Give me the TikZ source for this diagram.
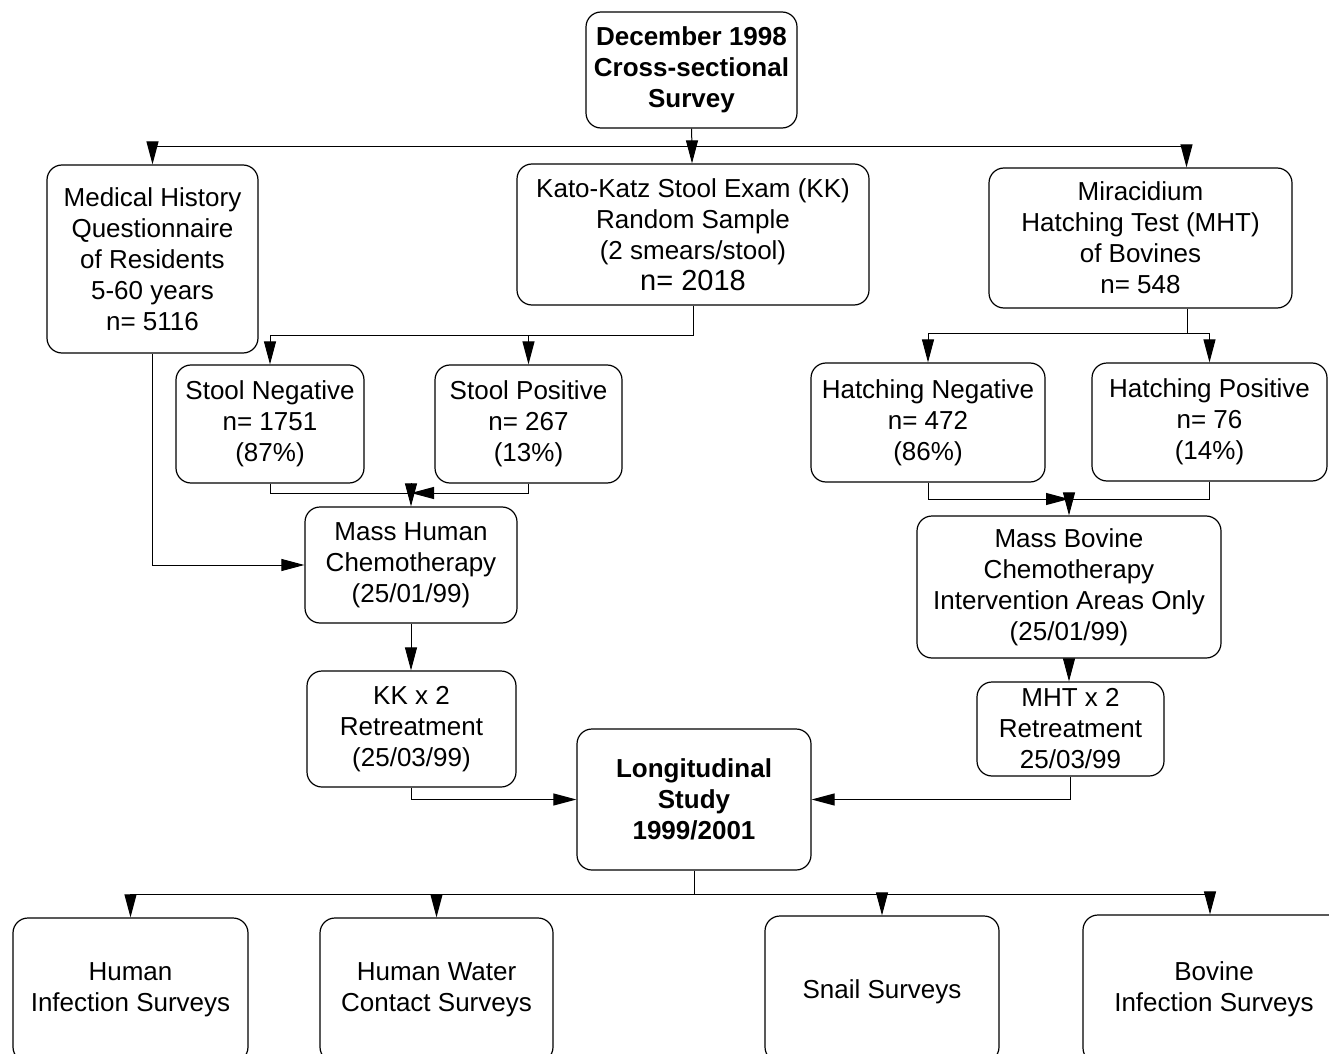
\documentclass[tikz,border=0pt]{standalone}
\usepackage{fontspec}
\setmainfont{Liberation Sans}
\usetikzlibrary{arrows.meta}
\begin{document}
\begin{tikzpicture}[x=0.5pt,y=-0.5pt,
  box/.style={draw, rounded corners=7.5pt, line width=0.6pt, align=center, inner sep=0pt, font=\fontsize{13}{15.5}\selectfont, execute at begin node={\rule{0pt}{12.5pt}}},
  boldbox/.style={box, font=\bfseries\fontsize{13}{15.5}\selectfont},
  conn/.style={line width=0.5pt},
  arr/.style={conn, -{Triangle[length=11.5pt,width=6pt]}}]
\fill[white] (0,0) rectangle (1329,1054);
\useasboundingbox (0,0) rectangle (1329,1054);
\clip (0,0) rectangle (1329,1054);

% nodes
\node[boldbox, minimum width=105.5pt, minimum height=58pt] (top) at (691.5,70) {December 1998\\Cross-sectional\\Survey};
\node[box, minimum width=105.5pt, minimum height=94pt] (med) at (152.5,259) {Medical History\\Questionnaire\\of Residents\\5-60 years\\n= 5116};
\node[box, minimum width=176pt, minimum height=70.5pt] (kk) at (693,234.5) {Kato-Katz Stool Exam (KK)\\Random Sample\\(2 smears/stool)\\{\fontsize{14.5}{15.5}\selectfont n= 2018}};
\node[box, minimum width=151.5pt, minimum height=70pt] (mht) at (1140.5,238) {Miracidium\\Hatching Test (MHT)\\of Bovines\\n= 548};
\node[box, minimum width=94pt, minimum height=59pt] (sneg) at (270,424) {Stool Negative\\n= 1751\\(87\%)};
\node[box, minimum width=93.5pt, minimum height=59pt] (spos) at (528.5,424) {Stool Positive\\n= 267\\(13\%)};
\node[box, minimum width=117pt, minimum height=59.5pt] (hneg) at (928,422.5) {Hatching Negative\\n= 472\\(86\%)};
\node[box, minimum width=117.5pt, minimum height=59pt] (hpos) at (1209.5,422) {Hatching Positive\\n= 76\\(14\%)};
\node[box, minimum width=106pt, minimum height=58pt] (mhum) at (411,565) {Mass Human\\Chemotherapy\\(25/01/99)};
\node[box, minimum width=152pt, minimum height=71pt] (mbov) at (1069,587) {Mass Bovine\\Chemotherapy\\Intervention Areas Only\\(25/01/99)};
\node[box, minimum width=104.5pt, minimum height=58pt] (kk2) at (411.5,729) {KK x 2\\Retreatment\\(25/03/99)};
\node[box, minimum width=93.5pt, minimum height=47pt] (mht2) at (1070.5,729) {MHT x 2\\Retreatment\\25/03/99};
\node[boldbox, minimum width=117pt, minimum height=70.5pt] (long) at (694,799.5) {Longitudinal\\Study\\1999/2001};
\node[box, minimum width=117.5pt, minimum height=72pt] (hinf) at (130.5,990) {Human\\Infection Surveys};
\node[box, minimum width=116.5pt, minimum height=72pt] (hwat) at (436.5,990) {Human Water\\Contact Surveys};
\node[box, minimum width=117pt, minimum height=73pt] (snail) at (882,989) {Snail Surveys};
\node[box, minimum width=131pt, minimum height=74pt] (bov) at (1214,989) {Bovine\\Infection Surveys};

% bus coordinates
\coordinate (b1) at (692,147);
\coordinate (b2) at (0,335);
\coordinate (b3) at (0,493);
\coordinate (b4) at (0,333);
\coordinate (b5) at (0,499);
\coordinate (b6) at (0,894);

% top -> first row
\draw[conn] (top.south) -- (b1);
\draw[arr] (b1) -| (med.north);
\draw[arr] (b1) -- (b1 |- kk.north);
\draw[arr] (b1) -| ([xshift=23pt]mht.north);

% kk -> stool
\draw[arr] (kk.south) |- (b2 -| sneg.north) -- (sneg.north);
\draw[arr] (kk.south |- b2) -| (spos.north);

% stool -> mass human
\draw[conn] (sneg.south) |- (b3 -| mhum.north);
\draw[arr] (spos.south) |- (b3 -| mhum.north);
\draw[arr] ([yshift=5pt]b3 -| mhum.north) -- (mhum.north);
\draw[arr] (med.south) |- (mhum.west);

% human chain
\draw[arr] (mhum.south) -- (mhum.south |- kk2.north);
\draw[arr] (kk2.south) |- (long.west);

% mht -> hatching
\draw[arr] ([xshift=23.5pt]mht.south) |- (b4 -| hneg.north) -- (hneg.north);
\draw[arr] ([xshift=23.5pt]mht.south |- b4) -| (hpos.north);

% hatching -> mass bovine
\draw[arr] (hneg.south) |- (b5 -| mbov.north);
\draw[conn] (hpos.south) |- (b5 -| mbov.north);
\draw[arr] ([yshift=3pt]b5 -| mbov.north) -- (mbov.north);

% bovine chain
\draw[arr] (mbov.south) -- (mbov.south |- mht2.north);
\draw[arr] (mht2.south) |- (long.east);

% longitudinal -> surveys
\draw[conn] (long.south) -- (long.south |- b6);
\draw[arr] (long.south |- b6) -| (hinf.north);
\draw[arr] (long.south |- b6) -| (hwat.north);
\draw[arr] (long.south |- b6) -| (snail.north);
\draw[arr] (long.south |- b6) -| ([xshift=-2pt]bov.north);
\end{tikzpicture}
\end{document}
